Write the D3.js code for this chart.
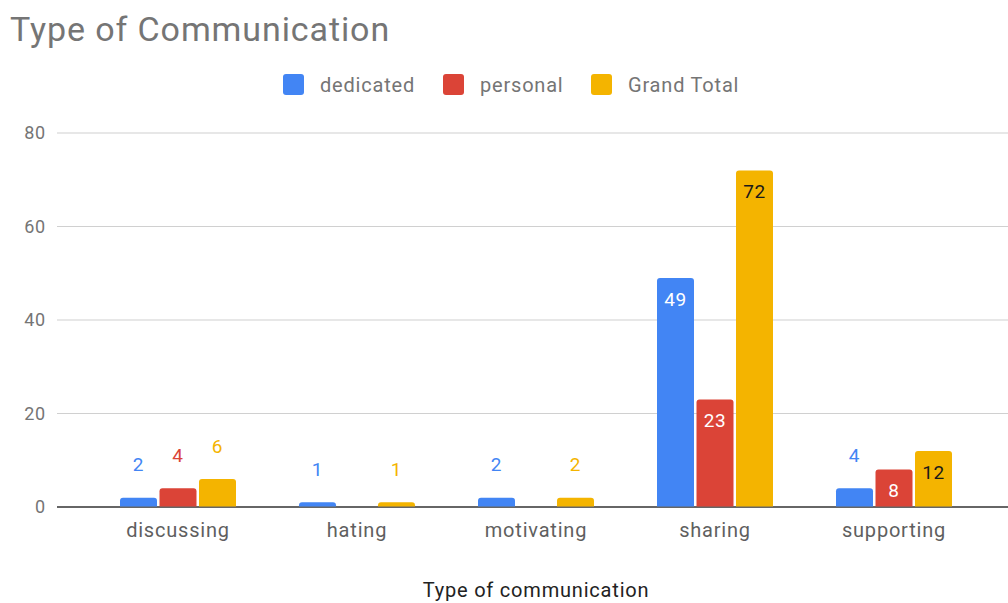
<!DOCTYPE html>
<html>
<head>
<meta charset="utf-8">
<script src="https://cdn.jsdelivr.net/npm/d3@7"></script>
<style>
  html, body { margin: 0; padding: 0; background: #fff; }
  svg { display: block; font-family: Roboto, "Noto Sans", Arial, sans-serif; }
</style>
</head>
<body>
<svg id="chart" width="1008" height="603"></svg>
<script>
// Data
const categories = ["discussing", "hating", "motivating", "sharing", "supporting"];
const seriesNames = ["dedicated", "personal", "Grand Total"];
const dedicated = [2, 1, 2, 49, 4];
const personal = [4, 0, 0, 23, 8];
const grandTotal = [6, 1, 2, 72, 12];
const yTicks = [0, 20, 40, 60, 80];

const seriesValues = [dedicated, personal, grandTotal];
const colors = ["#4285F4", "#DB4437", "#F4B400"];
const insideText = ["#ffffff", "#ffffff", "#1a1a1a"];

const svg = d3.select("#chart");
const W = 1008;
const gridLeft = 57;
const plotTop = 133, plotBottom = 507;

const x = d3.scaleBand().domain(categories).range([88.5, 983.5]).paddingInner(0).paddingOuter(0);
const y = d3.scaleLinear().domain([0, 80]).range([plotBottom, plotTop]);
const barW = 37, barGap = 2.5;
const xs = d3.scaleBand().domain(seriesNames).range([0, 3 * barW + 2 * barGap]).paddingInner(barGap / (barW + barGap));

// Title
svg.append("text").attr("x", 10).attr("y", 41)
  .attr("font-size", 34).attr("letter-spacing", 0.9).attr("fill", "#757575").text("Type of Communication");

// Legend
const legendX = [283, 443, 591];
seriesNames.forEach((s, i) => {
  svg.append("rect").attr("x", legendX[i]).attr("y", 74).attr("width", 21).attr("height", 21)
    .attr("rx", 3).attr("fill", colors[i]);
  svg.append("text").attr("x", legendX[i] + 37).attr("y", 92)
    .attr("font-size", 20).attr("letter-spacing", 0.8).attr("fill", "#757575").text(s);
});

// Gridlines and y tick labels
const yAxis = svg.append("g");
yTicks.forEach(t => {
  yAxis.append("line").attr("x1", gridLeft).attr("x2", W)
    .attr("y1", y(t)).attr("y2", y(t))
    .attr("stroke", t === 0 ? "#333" : "#d0d0d0").attr("stroke-width", t === 0 ? 1.5 : 1.2);
  yAxis.append("text").attr("x", 46).attr("y", y(t)).attr("dy", "0.36em")
    .attr("text-anchor", "end").attr("font-size", 18).attr("letter-spacing", 0.8)
    .attr("fill", "#757575").text(t);
});

// Rounded-top bar path
function barPath(x0, w, yTop, yBase, r) {
  const h = yBase - yTop;
  r = Math.min(r, h, w / 2);
  return `M${x0},${yBase}V${yTop + r}Q${x0},${yTop} ${x0 + r},${yTop}H${x0 + w - r}Q${x0 + w},${yTop} ${x0 + w},${yTop + r}V${yBase}Z`;
}

const groups = svg.append("g");
categories.forEach((c, ci) => {
  const gx = x(c) + x.bandwidth() / 2 - xs.range()[1] / 2;
  seriesNames.forEach((s, si) => {
    const v = seriesValues[si][ci];
    if (!v) return;
    const bx = gx + xs(s);
    const top = y(v);
    groups.append("path").attr("d", barPath(bx, xs.bandwidth(), top, y(0) - 0.5, 3))
      .attr("fill", colors[si]);
    const inside = (y(0) - top) > 30;
    groups.append("text")
      .attr("x", bx + xs.bandwidth() / 2)
      .attr("y", inside ? top + 21 : top - 33)
      .attr("dy", "0.36em")
      .attr("text-anchor", "middle").attr("font-size", 19).attr("letter-spacing", 0.6)
      .attr("fill", inside ? insideText[si] : colors[si])
      .text(v);
  });
});

// Category labels
categories.forEach(c => {
  svg.append("text").attr("x", x(c) + x.bandwidth() / 2).attr("y", 537)
    .attr("text-anchor", "middle").attr("font-size", 20).attr("letter-spacing", 0.8)
    .attr("fill", "#5f5f5f").text(c);
});

// Axis title
svg.append("text").attr("x", 536).attr("y", 597)
  .attr("text-anchor", "middle").attr("font-size", 20).attr("letter-spacing", 0.8)
  .attr("fill", "#222").text("Type of communication");
</script>
</body>
</html>
